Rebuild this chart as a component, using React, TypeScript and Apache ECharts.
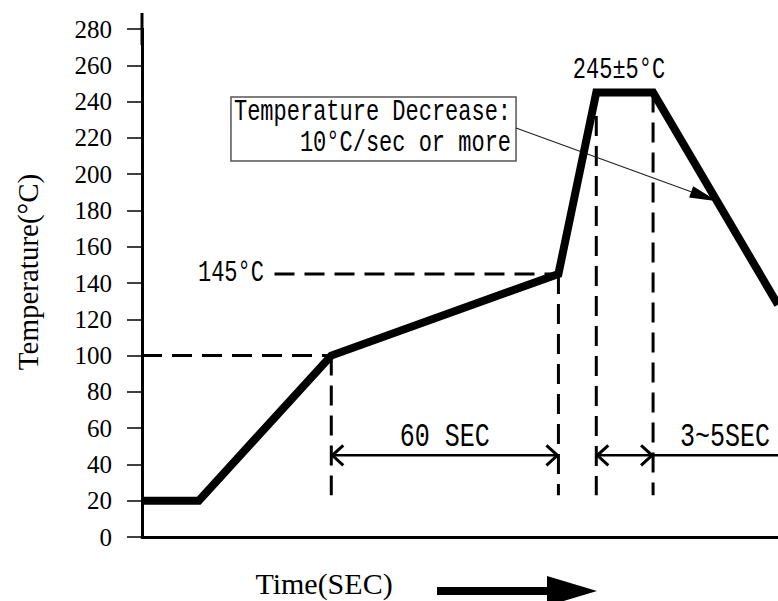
import React, { useEffect, useRef } from "react";
import * as echarts from "echarts";

// Reflow profile (schematic time units, temperature in °C)
const timeSec = [0, 15, 50, 110, 120, 135, 168];
const tempC = [20, 20, 100, 145, 245, 245, 128];

const yMin = 0;
const yMax = 280;
const yStep = 20;
const xMin = 0;
const xMax = 168;

// dashed guide lines
const guideHorizontal = [
  [0, 50, 100],
  [35, 110, 145],
]; // x0, x1, temperature
const guideVertical = [
  [50, 100, 23],
  [110, 145, 23],
  [120, 232, 23],
  [135, 245, 23],
]; // time, top temp, bottom temp

// dimension arrows
const spanArrows = [
  [50, 110, 45],
  [120, 135, 45],
]; // x0, x1, temperature
const spanTail = [135, 168, 45];
const spanLabels = ["60 SEC", "3~5SEC"];
const spanLabelPos = [
  [80, 55],
  [154, 55],
];

const soakLabel = "145°C";
const soakLabelPos = [23.5, 145];
const peakLabel = "245±5°C";
const peakLabelPos = [126, 257];

const noteLines = ["Temperature Decrease:", "10°C/sec or more"];
const noteBox = [23.5, 242.5, 98.8, 207.2]; // x0, yTop, x1, yBottom
const noteArrow = [
  [98.8, 225.4],
  [152, 185],
];

const yAxisTitle = "Temperature(°C)";
const xAxisTitle = "Time(SEC)";

const SERIF = "Liberation Serif";
const MONO = "Liberation Mono";

export default function App() {
  const ref = useRef<HTMLDivElement>(null);

  useEffect(() => {
    if (!ref.current) return;
    const chart = echarts.init(ref.current, undefined, { renderer: "svg" });

    const renderItem = (params: any, api: any) => {
      const c = (x: number, y: number) => api.coord([x, y]);
      const children: any[] = [];
      const dash = { stroke: "#000", lineWidth: 3, lineDash: [20, 10], fill: "none" };

      guideHorizontal.forEach(([x0, x1, y]) => {
        const a = c(x0, y);
        const b = c(x1, y);
        children.push({ type: "line", shape: { x1: a[0], y1: a[1], x2: b[0], y2: b[1] }, style: dash });
      });
      guideVertical.forEach(([x, y0, y1]) => {
        const a = c(x, y0);
        const b = c(x, y1);
        children.push({ type: "line", shape: { x1: a[0], y1: a[1], x2: b[0], y2: b[1] }, style: dash });
      });

      const solid = { stroke: "#000", lineWidth: 2.5, fill: "none" };
      const chev = { stroke: "#000", lineWidth: 3, fill: "none" };
      spanArrows.forEach(([x0, x1, y]) => {
        const a = c(x0, y);
        const b = c(x1, y);
        children.push({ type: "line", shape: { x1: a[0], y1: a[1], x2: b[0], y2: b[1] }, style: solid });
        children.push({ type: "polyline", shape: { points: [[a[0] + 12, a[1] - 10], [a[0] + 1, a[1]], [a[0] + 12, a[1] + 10]] }, style: chev });
        children.push({ type: "polyline", shape: { points: [[b[0] - 12, b[1] - 10], [b[0] - 1, b[1]], [b[0] - 12, b[1] + 10]] }, style: chev });
      });
      {
        const a = c(spanTail[0], spanTail[2]);
        const b = c(spanTail[1], spanTail[2]);
        children.push({ type: "line", shape: { x1: a[0], y1: a[1], x2: b[0], y2: b[1] }, style: solid });
      }

      const txt = (text: string, p: number[], family: string, size: number, align = "center", sy = 1.3) => ({
        type: "text",
        x: p[0],
        y: p[1],
        scaleY: sy,
        style: { text, fontFamily: family, fontSize: size, fill: "#000", align, verticalAlign: "middle" },
      });
      spanLabels.forEach((t, i) => children.push(txt(t, c(spanLabelPos[i][0], spanLabelPos[i][1]), MONO, 25)));
      children.push(txt(soakLabel, c(soakLabelPos[0], soakLabelPos[1]), MONO, 22));
      children.push(txt(peakLabel, c(peakLabelPos[0], peakLabelPos[1]), MONO, 22));

      // note box
      const tl = c(noteBox[0], noteBox[1]);
      const br = c(noteBox[2], noteBox[3]);
      children.push({
        type: "rect",
        shape: { x: tl[0], y: tl[1], width: br[0] - tl[0], height: br[1] - tl[1] },
        style: { fill: "#fff", stroke: "#555", lineWidth: 1.5 },
      });
      children.push(txt(noteLines[0], [tl[0] + 3, tl[1] + 16], MONO, 22, "left"));
      children.push(txt(noteLines[1], [br[0] - 5, tl[1] + 47], MONO, 22, "right"));

      // note arrow
      const s = c(noteArrow[0][0], noteArrow[0][1]);
      const t = c(noteArrow[1][0], noteArrow[1][1]);
      const dx = t[0] - s[0];
      const dy = t[1] - s[1];
      const len = Math.sqrt(dx * dx + dy * dy);
      const ux = dx / len;
      const uy = dy / len;
      const hl = 28;
      const hw = 6;
      const bx = t[0] - ux * hl;
      const by = t[1] - uy * hl;
      children.push({ type: "line", shape: { x1: s[0], y1: s[1], x2: bx, y2: by }, style: { stroke: "#222", lineWidth: 1.2, fill: "none" } });
      children.push({
        type: "polygon",
        shape: { points: [[t[0], t[1]], [bx - uy * hw, by + ux * hw], [bx + uy * hw, by - ux * hw]] },
        style: { fill: "#000", stroke: "none" },
      });

      return { type: "group", children };
    };

    chart.setOption({
      animation: false,
      backgroundColor: "#fff",
      textStyle: { fontFamily: SERIF },
      grid: { left: 142, right: 0, top: 29, bottom: 64, containLabel: false },
      xAxis: {
        type: "value",
        min: xMin,
        max: xMax,
        axisLine: { show: true, lineStyle: { color: "#000", width: 3 } },
        axisTick: { show: false },
        axisLabel: { show: false },
        splitLine: { show: false },
      },
      yAxis: {
        type: "value",
        min: yMin,
        max: yMax,
        interval: yStep,
        axisLine: {
          show: true,
          lineStyle: { color: "#000", width: 3 },
          symbol: ["none", "rect"],
          symbolSize: [3, 32],
        },
        axisTick: { show: true, length: 15, lineStyle: { color: "#000", width: 1.5 } },
        axisLabel: {
          margin: 30,
          fontFamily: SERIF,
          fontSize: 25,
          color: "#000",
          formatter: (v: number) => `{t|${v}}`,
          rich: { t: { fontFamily: SERIF, fontSize: 25, color: "#000" } },
        },
        splitLine: { show: false },
      },
      graphic: [
        {
          type: "text",
          x: 28,
          y: 272,
          rotation: Math.PI / 2,
          style: { text: yAxisTitle, fontFamily: SERIF, fontSize: 29, fill: "#000", align: "center", verticalAlign: "middle" },
        },
        {
          type: "text",
          x: 324,
          y: 583,
          style: { text: xAxisTitle, fontFamily: SERIF, fontSize: 30, fill: "#000", align: "center", verticalAlign: "middle" },
        },
        { type: "rect", shape: { x: 437, y: 587, width: 112, height: 8 }, style: { fill: "#000" } },
        { type: "polygon", shape: { points: [[547, 576], [597, 591], [547, 606]] }, style: { fill: "#000" } },
      ],
      series: [
        {
          type: "custom",
          coordinateSystem: "cartesian2d",
          data: [[0, 0]],
          renderItem,
          silent: true,
          z: 1,
        },
        {
          type: "line",
          data: timeSec.map((t, i) => [t, tempC[i]]),
          symbol: "none",
          lineStyle: { color: "#000", width: 8, join: "miter", cap: "butt" },
          z: 3,
        },
      ],
    });

    return () => chart.dispose();
  }, []);

  return <div ref={ref} style={{ position: "fixed", left: 0, top: 0, width: 778, height: 601 }} />;
}
